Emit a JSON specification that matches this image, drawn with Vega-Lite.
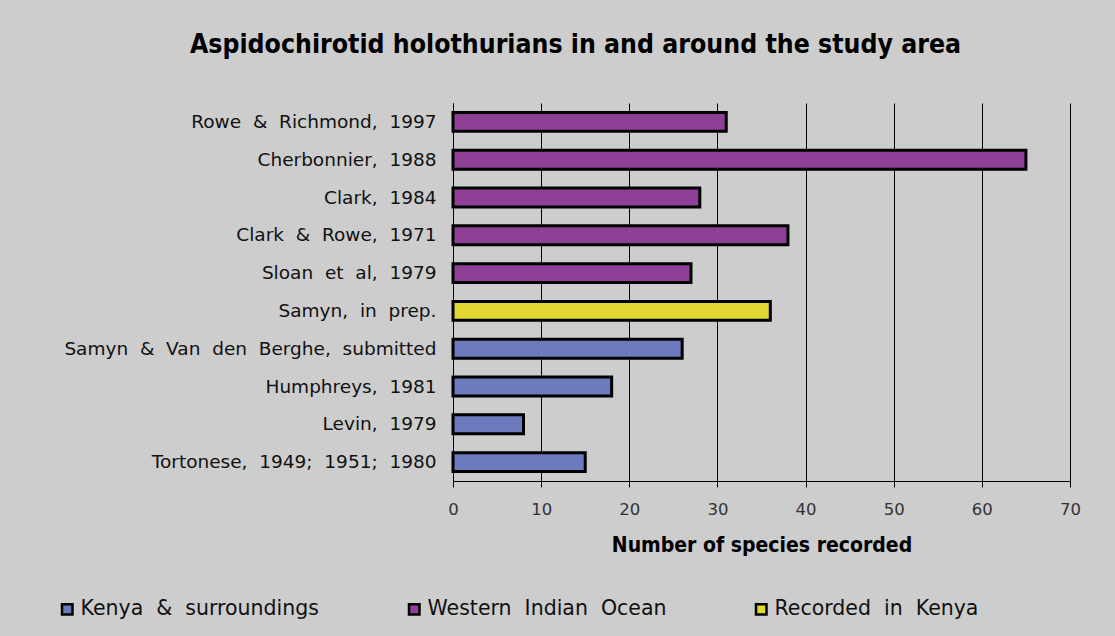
{
  "$schema": "https://vega.github.io/schema/vega-lite/v6.json",
  "autosize": {"type": "none"},
  "width": 617,
  "height": 378,
  "padding": {"left": 453, "top": 103, "right": 45, "bottom": 155},
  "background": "#cccdcc",
  "title": {
    "text": "Aspidochirotid holothurians in and around the study area",
    "anchor": "middle",
    "dx": -186,
    "offset": 24,
    "baseline": "alphabetic",
    "font": "DejaVu Sans Condensed",
    "fontSize": 26.4,
    "fontWeight": "bold",
    "color": "#000000"
  },
  "data": {
    "values": [
      {"source": "Rowe & Richmond, 1997", "species": 31, "group": "Western Indian Ocean"},
      {"source": "Cherbonnier, 1988", "species": 65, "group": "Western Indian Ocean"},
      {"source": "Clark, 1984", "species": 28, "group": "Western Indian Ocean"},
      {"source": "Clark & Rowe, 1971", "species": 38, "group": "Western Indian Ocean"},
      {"source": "Sloan et al, 1979", "species": 27, "group": "Western Indian Ocean"},
      {"source": "Samyn, in prep.", "species": 36, "group": "Recorded in Kenya"},
      {"source": "Samyn & Van den Berghe, submitted", "species": 26, "group": "Kenya & surroundings"},
      {"source": "Humphreys, 1981", "species": 18, "group": "Kenya & surroundings"},
      {"source": "Levin, 1979", "species": 8, "group": "Kenya & surroundings"},
      {"source": "Tortonese, 1949; 1951; 1980", "species": 15, "group": "Kenya & surroundings"}
    ]
  },
  "mark": {"type": "bar", "stroke": "#000000", "strokeWidth": 3},
  "encoding": {
    "y": {
      "field": "source",
      "type": "nominal",
      "sort": null,
      "scale": {"paddingInner": 0.5, "paddingOuter": 0.25},
      "axis": {
        "title": null,
        "ticks": false,
        "grid": false,
        "domain": true,
        "domainColor": "#000000",
        "domainWidth": 1,
        "labelFont": "DejaVu Sans",
        "labelFontSize": 18.5,
        "labelColor": "#111111",
        "labelPadding": 17,
        "labelLimit": 500,
        "labelExpr": "replace(datum.label, / /g, '\u00a0\u00a0')"
      }
    },
    "x": {
      "field": "species",
      "type": "quantitative",
      "scale": {"domain": [0, 70], "nice": false},
      "axis": {
        "title": "Number of species recorded",
        "titleFont": "DejaVu Sans Condensed",
        "titleFontSize": 21,
        "titleFontWeight": "bold",
        "titleColor": "#000000",
        "titlePadding": 17,
        "values": [0, 10, 20, 30, 40, 50, 60, 70],
        "grid": true,
        "gridColor": "#000000",
        "gridWidth": 1,
        "gridOpacity": 1,
        "domainColor": "#000000",
        "domainWidth": 1,
        "tickColor": "#000000",
        "tickSize": 6,
        "labelFlush": false,
        "labelFont": "DejaVu Sans",
        "labelFontSize": 16.5,
        "labelColor": "#333333",
        "labelPadding": 14
      }
    },
    "color": {
      "field": "group",
      "type": "nominal",
      "scale": {
        "domain": ["Kenya & surroundings", "Western Indian Ocean", "Recorded in Kenya"],
        "range": ["#6b7bbd", "#8e4096", "#e1d833"]
      },
      "legend": {
        "title": null,
        "orient": "none",
        "direction": "horizontal",
        "legendX": -396,
        "legendY": 496,
        "columns": 3,
        "gridAlign": "all",
        "columnPadding": 84,
        "symbolType": "square",
        "symbolSize": 110,
        "symbolStrokeColor": "#000000",
        "symbolStrokeWidth": 2.5,
        "symbolOpacity": 1,
        "labelFont": "DejaVu Sans",
        "labelFontSize": 20.5,
        "labelColor": "#111111",
        "labelOffset": 3,
        "labelLimit": 500,
        "labelExpr": "replace(datum.label, / /g, '\u00a0\u00a0')"
      }
    }
  },
  "config": {
    "view": {"stroke": null}
  }
}
